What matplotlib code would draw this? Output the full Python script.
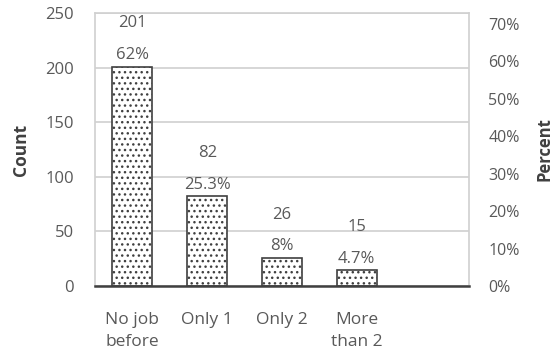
import matplotlib.pyplot as plt
from matplotlib.ticker import PercentFormatter

plt.rcParams['font.family'] = ['Open Sans', 'DejaVu Sans']
plt.rcParams['hatch.color'] = '#404040'
plt.rcParams['hatch.linewidth'] = 1.0

categories = ['No job\nbefore', 'Only 1', 'Only 2', 'More\nthan 2']
counts = [201, 82, 26, 15]
percents = ['62%', '25.3%', '8%', '4.7%']

grey = '#595959'

fig = plt.figure(figsize=(5.57, 3.5), dpi=100)
ax = fig.add_axes([95/557, 1-286/350, (469-95)/557, (286-13)/350])

x = range(len(counts))
ax.bar(x, counts, width=0.535, color='white', edgecolor='#404040',
       linewidth=1.2, hatch='...', zorder=3)

for i, c in enumerate(counts):
    ax.annotate(str(c), (i, c), xytext=(0, 31), textcoords='offset points',
                ha='center', va='center', fontsize=12, color=grey)
    ax.annotate(percents[i], (i, c), xytext=(0, 8), textcoords='offset points',
                ha='center', va='center', fontsize=12, color=grey)

ax.set_xlim(-0.5, 4.5)
ax.set_ylim(0, 250)
ax.set_yticks(range(0, 251, 50))
ax.set_xticks(list(x))
ax.set_xticklabels(categories)
ax.tick_params(axis='y', length=0, pad=15, labelsize=12, labelcolor=grey)
ax.tick_params(axis='x', length=0, pad=19, labelsize=12.5, labelcolor=grey)
for lbl in ax.get_xticklabels():
    lbl.set_linespacing(1.5)
ax.grid(axis='y', color='#d0d0d0', linewidth=1.2, zorder=0)
for s in ['top', 'left', 'right']:
    ax.spines[s].set_color('#d0d0d0')
    ax.spines[s].set_linewidth(1.2)
ax.spines['bottom'].set_color('#404040')
ax.spines['bottom'].set_linewidth(1.8)
ax.spines['bottom'].set_zorder(4)
ax.set_ylabel('Count', fontsize=12.5, fontweight='bold', color='#404040', labelpad=11)

ax2 = ax.twinx()
ax2.set_ylim(0, 0.7 * 273 / 262)
ax2.set_yticks([i / 10 for i in range(8)])
ax2.yaxis.set_major_formatter(PercentFormatter(1.0, decimals=0))
ax2.tick_params(axis='y', length=0, pad=14, labelsize=11.5, labelcolor=grey)
for s in ax2.spines.values():
    s.set_visible(False)
ax2.set_ylabel('Percent', fontsize=12, fontweight='bold', color='#404040', labelpad=11)

fig.savefig('out.png', dpi=100)
